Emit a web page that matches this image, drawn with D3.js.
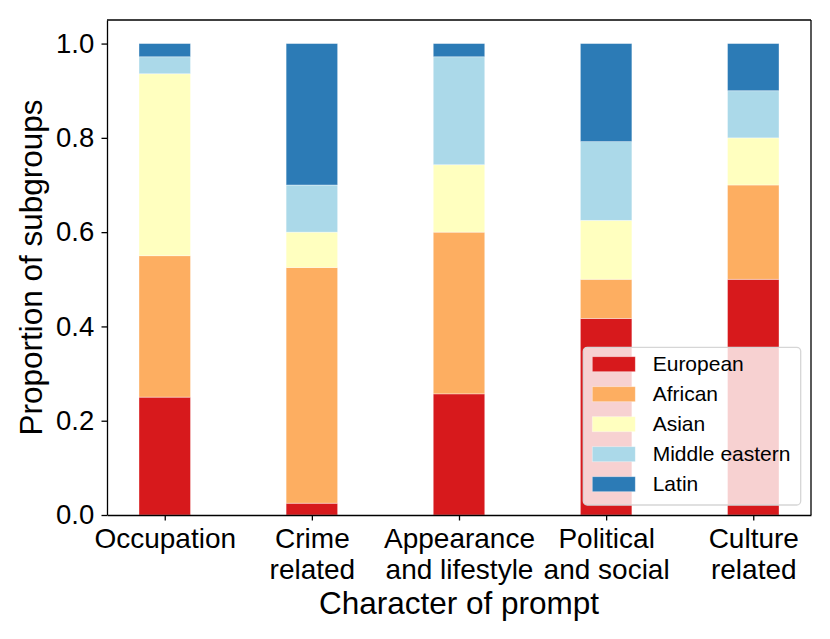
<!DOCTYPE html>
<html>
<head>
<meta charset="utf-8">
<script src="https://cdn.jsdelivr.net/npm/d3@7"></script>
<style>
  body { margin: 0; background: #fff; }
  svg { display: block; font-family: "Liberation Sans", Arial, sans-serif; }
  .axis text { fill: #000; }
  .axis path, .axis line { stroke: #000; }
</style>
</head>
<body>
<div class="plotWrapper"></div>
<script>
// data
const categories = [["Occupation"], ["Crime", "related"], ["Appearance", "and lifestyle"], ["Political", "and social"], ["Culture", "related"]];
const groups = ["European", "African", "Asian", "Middle eastern", "Latin"];
const european = [0.25, 0.025, 0.257, 0.417, 0.5];
const african = [0.30, 0.50, 0.343, 0.083, 0.2];
const asian = [0.386, 0.075, 0.143, 0.125, 0.1];
const middleEastern = [0.036, 0.10, 0.229, 0.167, 0.1];
const latin = [0.028, 0.30, 0.028, 0.208, 0.1];
const yTicks = [0, 0.2, 0.4, 0.6, 0.8, 1.0];

const colors = ["#d7191c", "#fdae61", "#ffffbf", "#abd9e9", "#2c7bb6"];
const series = [european, african, asian, middleEastern, latin];

let width = 830;
let height = 639;
let margin = {top: 20, right: 19, bottom: 124, left: 107};
let barWidth = 0.35;

let rows = categories.map((c, i) => {
    let row = {index: i};
    groups.forEach((g, j) => { row[g] = series[j][i]; });
    return row;
});

let svg = d3.select(".plotWrapper")
    .append("svg")
    .attr("width", width)
    .attr("height", height);

let xScale = d3.scaleLinear()
    .domain([-0.3925, categories.length - 1 + 0.3925])
    .range([margin.left, width - margin.right]);
let yScale = d3.scaleLinear()
    .domain([0, 1.05])
    .range([height - margin.bottom, margin.top]);

let stacked = d3.stack().keys(groups)(rows);

let barGroups = svg.append("g").selectAll("g")
    .data(stacked)
    .enter().append("g")
    .attr("fill", (d, i) => colors[i]);

barGroups.selectAll("rect")
    .data(d => d)
    .enter().append("rect")
    .attr("x", d => xScale(d.data.index - barWidth / 2))
    .attr("width", xScale(barWidth) - xScale(0))
    .attr("y", d => yScale(d[1]))
    .attr("height", d => yScale(d[0]) - yScale(d[1]))
    .attr("stroke", "#fff")
    .attr("stroke-opacity", 0.45)
    .attr("stroke-width", 0.8);

// axes
let xAxis = d3.axisBottom(xScale)
    .tickValues(d3.range(categories.length))
    .tickSize(5.5)
    .tickSizeOuter(0)
    .tickPadding(7)
    .tickFormat("");
let yAxis = d3.axisLeft(yScale)
    .tickValues(yTicks)
    .tickSize(5.5)
    .tickSizeOuter(0)
    .tickPadding(7.2)
    .tickFormat(d3.format(".1f"));

let xAxisElement = svg.append("g")
    .attr("class", "x axis")
    .attr("transform", "translate(0," + (height - margin.bottom) + ")")
    .call(xAxis);
let yAxisElement = svg.append("g")
    .attr("class", "y axis")
    .attr("transform", "translate(" + margin.left + ",0)")
    .call(yAxis);

xAxisElement.selectAll("path, line").attr("stroke-width", 1.3);
yAxisElement.selectAll("path, line").attr("stroke-width", 1.3);
yAxisElement.selectAll("text").style("font-size", "27.5px");

// multi-line category labels
xAxisElement.selectAll(".tick").each(function(d) {
    let text = d3.select(this).append("text")
        .attr("fill", "#000")
        .attr("text-anchor", "middle")
        .style("font-size", "28px");
    categories[d].forEach((line, k) => {
        text.append("tspan")
            .attr("x", 0)
            .attr("y", 32.5 + k * 31.3)
            .text(line);
    });
});

// top and right spines
svg.append("line")
    .attr("x1", margin.left).attr("x2", width - margin.right)
    .attr("y1", margin.top).attr("y2", margin.top)
    .attr("stroke", "#000").attr("stroke-width", 1.3);
svg.append("line")
    .attr("x1", width - margin.right).attr("x2", width - margin.right)
    .attr("y1", margin.top).attr("y2", height - margin.bottom)
    .attr("stroke", "#000").attr("stroke-width", 1.3);

// axis titles
svg.append("text")
    .attr("x", (margin.left + width - margin.right) / 2)
    .attr("y", 614.3)
    .attr("text-anchor", "middle")
    .style("font-size", "31.5px")
    .text("Character of prompt");
svg.append("text")
    .attr("transform", "translate(41.7," + (margin.top + height - margin.bottom) / 2 + ") rotate(-90)")
    .attr("text-anchor", "middle")
    .style("font-size", "31.5px")
    .text("Proportion of subgroups");

// legend
let legend = svg.append("g").attr("transform", "translate(583.3,347.3)");
legend.append("rect")
    .attr("width", 217.4)
    .attr("height", 157.7)
    .attr("rx", 4)
    .attr("fill", "#fff")
    .attr("fill-opacity", 0.8)
    .attr("stroke", "#d6d6d6")
    .attr("stroke-width", 1.3);
let items = legend.selectAll(".item")
    .data(groups)
    .enter().append("g")
    .attr("class", "item")
    .attr("transform", (d, i) => "translate(0," + i * 30 + ")");
items.append("rect")
    .attr("x", 9)
    .attr("y", 9.4)
    .attr("width", 43)
    .attr("height", 15)
    .attr("fill", (d, i) => colors[i])
    .attr("stroke", "#fff")
    .attr("stroke-opacity", 0.45)
    .attr("stroke-width", 0.8);
items.append("text")
    .attr("x", 69.4)
    .attr("y", 23.7)
    .style("font-size", "21px")
    .text(d => d);
</script>
</body>
</html>
